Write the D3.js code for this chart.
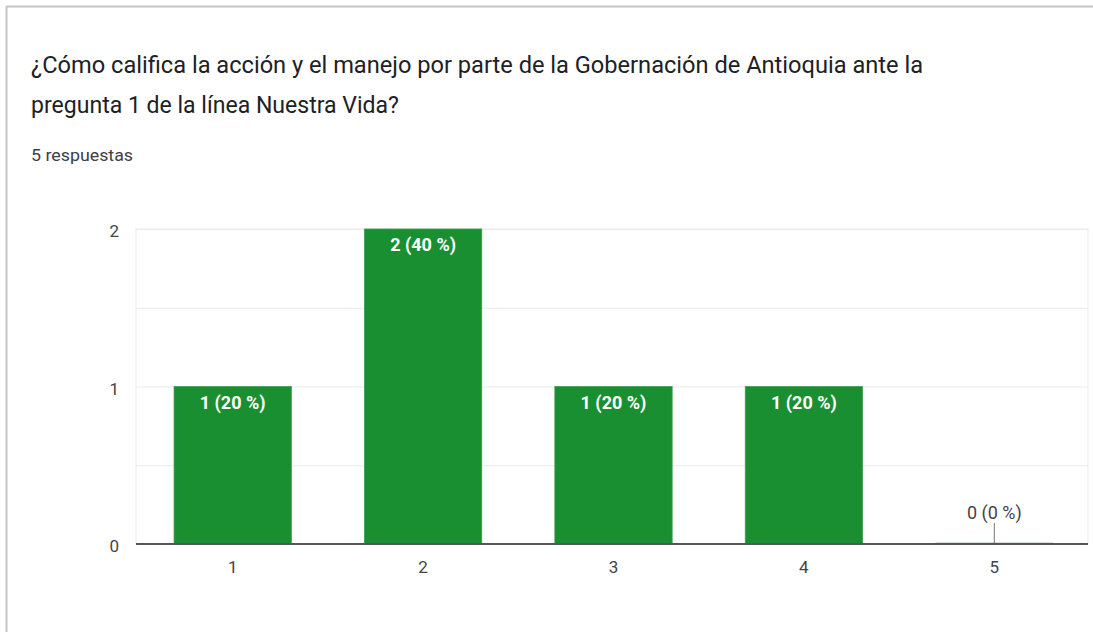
<!DOCTYPE html>
<html>
<head>
<meta charset="utf-8">
<script src="https://cdn.jsdelivr.net/npm/d3@7"></script>
<style>
  body { margin: 0; background: #fff; }
  text { font-family: Roboto, "Noto Sans", sans-serif; }
</style>
</head>
<body>
<svg id="chart" width="1093" height="632"></svg>
<script>
const titleLines = [
  "¿Cómo califica la acción y el manejo por parte de la Gobernación de Antioquia ante la",
  "pregunta 1 de la línea Nuestra Vida?"
];
const subtitle = "5 respuestas";
const categories = ["1", "2", "3", "4", "5"];
const counts = [1, 2, 1, 1, 0];
const percents = [20, 40, 20, 20, 0];
const yTicks = [0, 1, 2];

const svg = d3.select("#chart");
const width = 1093, height = 632;
const plot = { left: 136, right: 1088, top: 229, bottom: 544 };

// card frame (top and left edges visible)
svg.append("line").attr("x1", 6).attr("x2", width).attr("y1", 6.5).attr("y2", 6.5)
  .attr("stroke", "#c6c6c6").attr("stroke-width", 2);
svg.append("line").attr("x1", 6.5).attr("x2", 6.5).attr("y1", 6).attr("y2", height)
  .attr("stroke", "#c6c6c6").attr("stroke-width", 2);

// title, squeezed to the widths in the picture
const titleWidths = [892, 368];
svg.selectAll(".title")
  .data(titleLines)
  .join("text")
  .attr("class", "title")
  .attr("x", 31)
  .attr("y", (d, i) => 73 + i * 40)
  .attr("font-size", "24px")
  .attr("fill", "#202124")
  .attr("textLength", (d, i) => titleWidths[i])
  .attr("lengthAdjust", "spacingAndGlyphs")
  .text(d => d);

svg.append("text")
  .attr("x", 31).attr("y", 161)
  .attr("font-size", "17px")
  .attr("fill", "#3c4043")
  .attr("textLength", 102)
  .attr("lengthAdjust", "spacingAndGlyphs")
  .text(subtitle);

const x = d3.scaleBand()
  .domain(categories)
  .range([plot.left + 1.5, plot.right + 1.5])
  .paddingInner(0.384)
  .paddingOuter(0.192);

const y = d3.scaleLinear()
  .domain([0, 2])
  .range([plot.bottom, plot.top]);

// plot frame + gridlines
svg.append("rect")
  .attr("x", plot.left).attr("y", plot.top)
  .attr("width", plot.right - plot.left).attr("height", plot.bottom - plot.top)
  .attr("fill", "none").attr("stroke", "#ebebeb");

svg.append("g")
  .selectAll("line")
  .data(d3.range(0, 2.01, 0.5))
  .join("line")
  .attr("x1", plot.left).attr("x2", plot.right)
  .attr("y1", d => y(d) + 0.5).attr("y2", d => y(d) + 0.5)
  .attr("stroke", "#ebebeb");

// y axis labels
const yAxis = d3.axisLeft(y).tickValues(yTicks).tickFormat(d3.format("d")).tickSize(0).tickPadding(17);
const gy = svg.append("g").attr("transform", `translate(${plot.left},0)`).call(yAxis);
gy.select(".domain").remove();
gy.selectAll("text").attr("font-size", "17px").attr("fill", "#444").attr("dy", "0.45em")
  .attr("font-family", "Roboto, sans-serif");

// bars
const data = categories.map((c, i) => ({ cat: c, value: counts[i], pct: percents[i] }));

svg.selectAll(".bar")
  .data(data)
  .join("rect")
  .attr("class", "bar")
  .attr("x", d => x(d.cat))
  .attr("y", d => d.value > 0 ? y(d.value) : y(0) - 2)
  .attr("width", x.bandwidth())
  .attr("height", d => d.value > 0 ? y(0) - y(d.value) : 2)
  .attr("fill", d => d.value > 0 ? "#1a8f32" : "#d3e3d6")
  .attr("stroke", d => d.value > 0 ? "#3a9e4e" : "none")
  .attr("stroke-width", 0.8);

// x axis
const xAxis = d3.axisBottom(x).tickSize(0).tickPadding(17);
const gx = svg.append("g").attr("transform", `translate(0,${plot.bottom})`).call(xAxis);
gx.select(".domain").attr("d", `M${plot.left},0H${plot.right}`).attr("stroke", "#555").attr("stroke-width", 2);
gx.selectAll("text").attr("font-size", "17px").attr("fill", "#444").attr("font-family", "Roboto, sans-serif");

// value labels
const cx = d => x(d.cat) + x.bandwidth() / 2;
svg.selectAll(".label")
  .data(data)
  .join("text")
  .attr("class", "label")
  .attr("x", cx)
  .attr("y", d => d.value > 0 ? y(d.value) + 22 : y(0) - 25)
  .attr("text-anchor", "middle")
  .attr("font-size", "18px")
  .attr("font-weight", d => d.value > 0 ? "bold" : "normal")
  .attr("fill", d => d.value > 0 ? "#fff" : "#444")
  .text(d => `${d.value} (${d.pct} %)`);

// leader stem for zero bars
svg.selectAll(".stem")
  .data(data.filter(d => d.value === 0))
  .join("line")
  .attr("class", "stem")
  .attr("x1", cx).attr("x2", cx)
  .attr("y1", y(0) - 21).attr("y2", y(0) - 1)
  .attr("stroke", "#777").attr("stroke-width", 1);
</script>
</body>
</html>
